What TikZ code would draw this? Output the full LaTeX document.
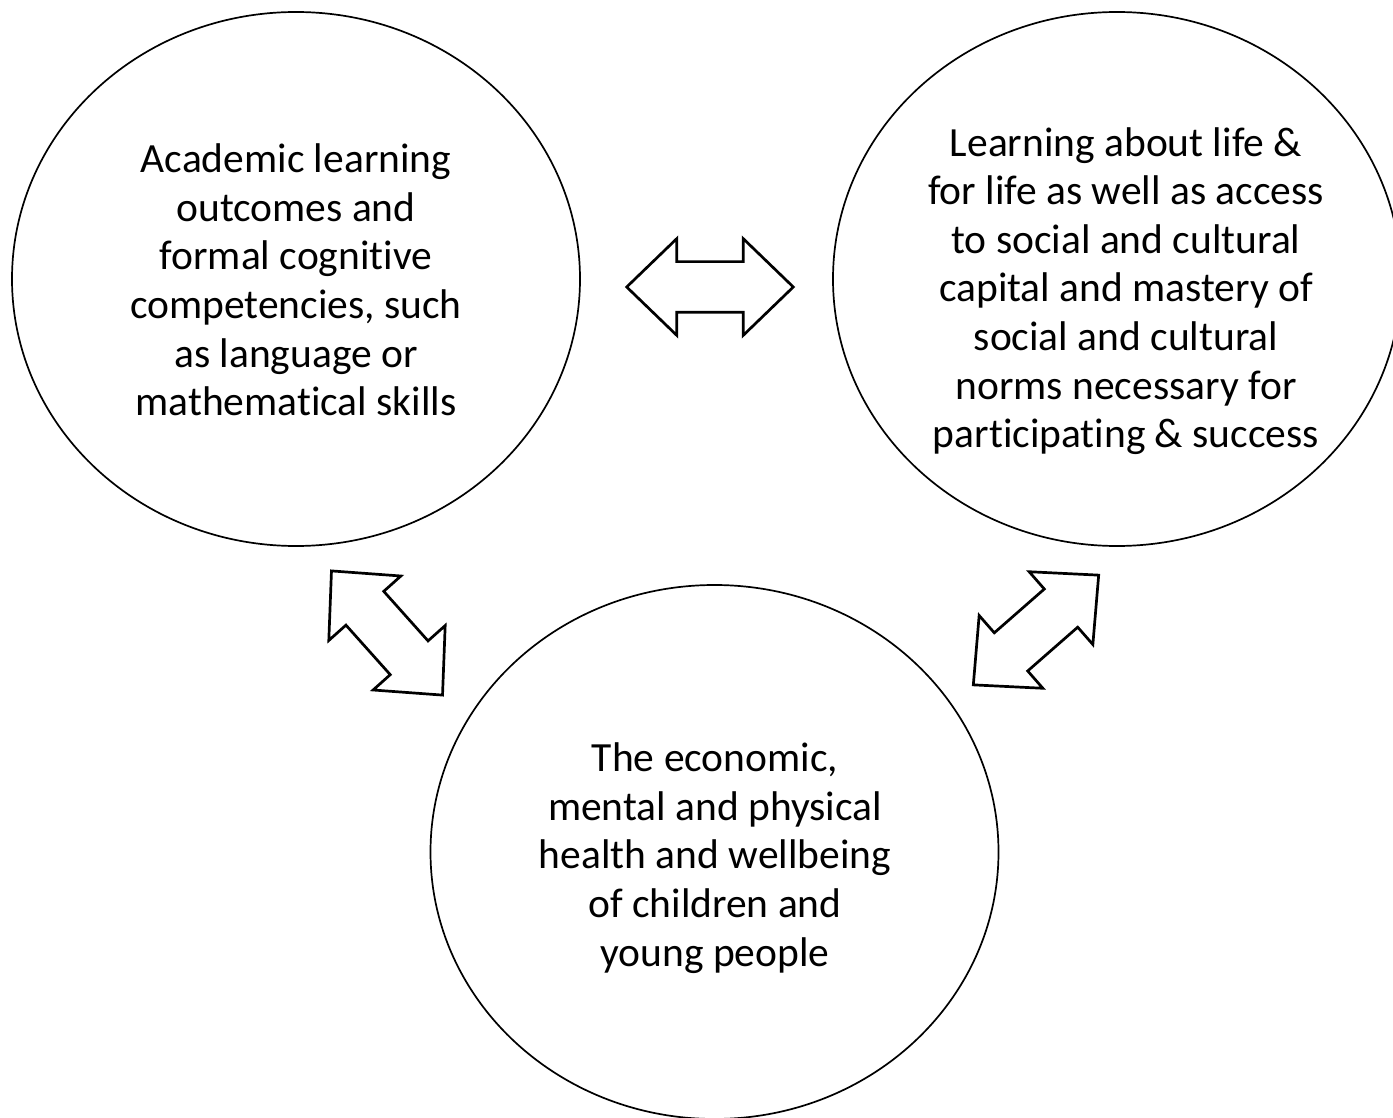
\documentclass[tikz,border=0pt]{standalone}
\usepackage{fontspec}
\setmainfont{Carlito}[Ligatures=NoCommon]
\usetikzlibrary{shapes.geometric,shapes.arrows}

\tikzset{
  bubble/.style={draw=black, line width=0.85pt, ellipse, minimum width=284pt, minimum height=267pt, inner sep=0pt},
  bubbletext/.style={align=center, inner sep=0pt, font=\fontsize{20.75pt}{24.3pt}\selectfont},
  twoway/.style={draw=black, line width=1.35pt, fill=white, double arrow, double arrow tip angle=88,
    double arrow head extend=11.5pt, minimum height=83.3pt, inner xsep=0pt, inner ysep=12pt},
}

\begin{document}
\begin{tikzpicture}[x=0.5pt, y=-0.5pt]
    \useasboundingbox (0,0) rectangle (1393,1118);

    % the three areas
    \node[bubble] (academic) at (296,279) {};
    \node[bubble] (lifelearn) at (1117,279) {};
    \node[bubble] (wellbeing) at (714.5,852) {};

    \node[bubbletext] (academictxt) at (296,280) {Academic learning\\ outcomes and\\ formal cognitive\\ competencies, such\\ as language or\\ mathematical skills};
    \node[bubbletext] (lifelearntxt) at (1126,291) {Learning about life \&\\ for life as well as access\\ to social and cultural\\ capital and mastery of\\ social and cultural\\ norms necessary for\\ participating \& success};
    \node[bubbletext] (wellbeingtxt) at (715,858) {The economic,\\ mental and physical\\ health and wellbeing\\ of children and\\ young people};

    % links between them
    \node[twoway] (acadlife) at (710,287) {};
    \node[twoway, rotate=-48.2] (acadwell) at (387,633) {};
    \node[twoway, rotate=41.2] (lifewell) at (1036,630) {};

\end{tikzpicture}
\end{document}
